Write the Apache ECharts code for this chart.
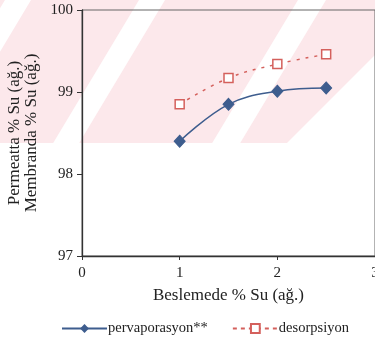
<!DOCTYPE html>
<html><head><meta charset="utf-8">
<script src="https://cdn.jsdelivr.net/npm/echarts@6/dist/echarts.min.js"></script>
<style>html,body{margin:0;padding:0;background:#fff}#c{width:375px;height:337px}</style>
</head><body><div id="c"></div>
<script>
// data
const feedWater = [1, 1.5, 2, 2.5];
const pervaporasyon = [98.40, 98.85, 99.01, 99.05];
const desorpsiyon = [98.85, 99.17, 99.34, 99.46];
const seriesNames = ['pervaporasyon**', 'desorpsiyon'];
const xAxisTitle = 'Beslemede % Su (ağ.)';
const yAxisTitle = ['Permeatta % Su (ağ.)', 'Membranda % Su (ağ.)'];

const FONT = "'Liberation Serif','Times New Roman',serif";
const BLUE = '#3e5d8e';
const RED = '#d4605c';
const PINK = '#fce8eb';

// scanned watermark background (decoration only)
const S = 0.6, H = 143;
function band(xt, w) {
  return {type:'polygon', z:-10, silent:true,
    shape:{points:[[xt-w/2,0],[xt+w/2,0],[xt+w/2-S*H,H],[xt-w/2-S*H,H]]},
    style:{fill:'#ffffff'}};
}
const deco = [
  {type:'rect', z:-11, silent:true, shape:{x:0,y:0,width:375,height:H}, style:{fill:PINK}},
  band(18, 26), band(152, 26), band(312, 28),
  {type:'polygon', z:-10, silent:true, shape:{points:[[287,H],[375,55],[375,H]]}, style:{fill:'#ffffff'}}
];

const chart = echarts.init(document.getElementById('c'), null, {renderer:'canvas'});
chart.setOption({
  animation:false,
  backgroundColor:'transparent',
  graphic: deco,
  grid:{left:82, right:0, top:10, bottom:81, show:true, borderColor:'#666', borderWidth:1,
        backgroundColor:'transparent', containLabel:false, outerBoundsMode:'none'},
  xAxis:{
    type:'value', min:0, max:3, interval:1,
    name:xAxisTitle, nameLocation:'middle', nameGap:31,
    nameTextStyle:{fontFamily:FONT, fontSize:17, color:'#222'},
    axisLine:{lineStyle:{color:'#333', width:1.3}},
    axisTick:{show:true, length:4, lineStyle:{color:'#333'}},
    axisLabel:{fontFamily:FONT, fontSize:15, color:'#222', margin:10},
    splitLine:{show:false}
  },
  yAxis:{
    type:'value', min:97, max:100, interval:1,
    name:yAxisTitle.join('\n'), nameLocation:'middle', nameGap:40, nameRotate:90,
    nameTextStyle:{fontFamily:FONT, fontSize:17, color:'#222', lineHeight:17},
    axisLine:{show:true, lineStyle:{color:'#333', width:1.3}},
    axisTick:{show:true, length:5, lineStyle:{color:'#333'}},
    axisLabel:{fontFamily:FONT, fontSize:15, color:'#222', margin:9},
    splitLine:{show:false}
  },
  legend:{
    top:316, left:56, itemWidth:45, itemHeight:11, itemGap:24,
    textStyle:{fontFamily:FONT, fontSize:14.5, color:'#222', padding:[0,0,0,-4]},
    data:[
      {name:seriesNames[0]},
      {name:seriesNames[1], lineStyle:{type:[4,4]}}
    ]
  },
  series:[
    {
      name:seriesNames[0], type:'line', smooth:0.4,
      data:feedWater.map((x,i)=>[x, pervaporasyon[i]]),
      symbol:'diamond', symbolSize:[11,12],
      itemStyle:{color:BLUE, borderColor:BLUE},
      lineStyle:{color:BLUE, width:1.5}
    },
    {
      name:seriesNames[1], type:'line', smooth:0.4,
      data:feedWater.map((x,i)=>[x, desorpsiyon[i]]),
      symbol:'rect', symbolSize:9,
      itemStyle:{color:'#fff', borderColor:RED, borderWidth:1.5},
      lineStyle:{color:RED, width:1.5, type:[3,6]}
    }
  ]
});
</script></body></html>
